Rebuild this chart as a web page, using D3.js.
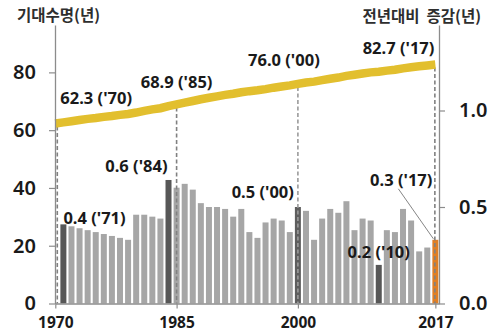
<!DOCTYPE html>
<html>
<head>
<meta charset="utf-8">
<script src="https://cdn.jsdelivr.net/npm/d3@7"></script>
<style>
  body { margin: 0; background: #fff; }
  svg { display: block; }
</style>
</head>
<body>
<svg id="chart" width="493" height="334"></svg>
<script>
// Life expectancy at birth (years), 1970–2017
const lineYears = [1970, 1971, 1972, 1973, 1974, 1975, 1976, 1977, 1978, 1979,
                   1980, 1981, 1982, 1983, 1984, 1985, 1986, 1987, 1988, 1989,
                   1990, 1991, 1992, 1993, 1994, 1995, 1996, 1997, 1998, 1999,
                   2000, 2001, 2002, 2003, 2004, 2005, 2006, 2007, 2008, 2009,
                   2010, 2011, 2012, 2013, 2014, 2015, 2016, 2017];
const lifeExpectancy = [62.3, 62.7, 63.1, 63.5, 63.9, 64.2, 64.6, 64.9, 65.3, 65.6,
                        66.1, 66.7, 67.2, 67.6, 68.3, 68.9, 69.5, 70.1, 70.7, 71.2,
                        71.7, 72.2, 72.6, 73.1, 73.5, 73.8, 74.2, 74.7, 75.1, 75.5,
                        76.0, 76.5, 76.8, 77.3, 77.8, 78.2, 78.8, 79.2, 79.6, 80.0,
                        80.2, 80.6, 80.9, 81.4, 81.8, 82.1, 82.4, 82.7];

// Year-over-year change (years), 1971–2017
const barYears = [1971, 1972, 1973, 1974, 1975, 1976, 1977, 1978, 1979,
                  1980, 1981, 1982, 1983, 1984, 1985, 1986, 1987, 1988, 1989,
                  1990, 1991, 1992, 1993, 1994, 1995, 1996, 1997, 1998, 1999,
                  2000, 2001, 2002, 2003, 2004, 2005, 2006, 2007, 2008, 2009,
                  2010, 2011, 2012, 2013, 2014, 2015, 2016, 2017];
const yearlyChange = [0.41, 0.40, 0.39, 0.38, 0.37, 0.36, 0.35, 0.34, 0.33,
                      0.46, 0.46, 0.45, 0.44, 0.64, 0.60, 0.62, 0.59, 0.52, 0.50,
                      0.50, 0.49, 0.45, 0.49, 0.37, 0.34, 0.42, 0.44, 0.43, 0.37,
                      0.50, 0.48, 0.33, 0.44, 0.49, 0.47, 0.53, 0.38, 0.44, 0.43,
                      0.20, 0.38, 0.37, 0.49, 0.43, 0.27, 0.29, 0.33];

const darkBarYears = [1971, 1984, 2010];
const dashedBarYear = 2000;
const latestYear = 2017;

const markerYears = [1970, 1985, 2000, 2017];          // dashed guides + x ticks
const leftTicks = [0, 20, 40, 60, 80];
const rightTicks = [0.0, 0.5, 1.0];

const leftTitle = "기대수명(년)";
const rightTitle = "전년대비\u00a0\u00a0증감(년)";

// ---------------------------------------------------------------
const svg = d3.select("#chart");
const plotTop = 25, plotBottom = 303.5, plotLeft = 55, plotRight = 439;

const x = d3.scaleLinear().domain([1970, 2017.45]).range([55.3, plotRight]);
const yL = d3.scaleLinear().domain([0, 96.4]).range([plotBottom, plotTop]);
const yR = d3.scaleLinear().domain([0, 1.443]).range([plotBottom, plotTop]);

const numFont = "'Noto Sans', 'DejaVu Sans', sans-serif";
const krFont = "'Noto Sans CJK KR', 'Noto Sans', sans-serif";
const axisColor = "#8c8c8c";
const textColor = "#1a1a1a";

const barData = barYears.map((yr, i) => ({ year: yr, value: yearlyChange[i] }));
const lineData = lineYears.map((yr, i) => ({ year: yr, value: lifeExpectancy[i] }));
const lifeAt = yr => lifeExpectancy[lineYears.indexOf(yr)];
const changeAt = yr => yearlyChange[barYears.indexOf(yr)];

// bars
const barW = 6;
svg.append("g").selectAll("rect")
  .data(barData)
  .join("rect")
  .attr("x", d => x(d.year) - barW / 2)
  .attr("y", d => yR(d.value))
  .attr("width", barW)
  .attr("height", d => plotBottom - yR(d.value))
  .attr("fill", d => d.year === latestYear ? "#E07F24"
                    : d.year === dashedBarYear ? "#5e5e5e"
                    : darkBarYears.includes(d.year) ? "#575757" : "#a6a6a6");

// dashed guides from the line down to the baseline
const guides = svg.append("g");
markerYears.forEach(yr => {
  const gx = yr === 1970 ? x(yr) + 2 : yr === 2017 ? x(yr) - 0.5 : x(yr);
  guides.append("line")
    .attr("x1", gx).attr("x2", gx)
    .attr("y1", yL(lifeAt(yr)) + 3).attr("y2", plotBottom)
    .attr("stroke", yr === dashedBarYear ? "#9b9b9b" : "#808080")
    .attr("stroke-width", 1.6)
    .attr("stroke-dasharray", "4,2.5");
});

// life expectancy line
svg.append("path")
  .datum(lineData)
  .attr("fill", "none")
  .attr("stroke", "#E2BF2E")
  .attr("stroke-width", 8.5)
  .attr("d", d3.line().x(d => x(d.year)).y(d => yL(d.value)));

// axes
function styleAxis(g, fs, weight) {
  g.select(".domain").attr("stroke", axisColor).attr("stroke-width", 1.3);
  g.selectAll(".tick line").attr("stroke", axisColor).attr("stroke-width", 1.2);
  g.selectAll(".tick text").attr("fill", textColor)
    .style("font-family", numFont).style("font-size", fs + "px").style("font-weight", weight);
}

svg.append("g")
  .attr("transform", `translate(${plotLeft},0)`)
  .call(d3.axisLeft(yL).tickValues(leftTicks).tickSize(6).tickSizeOuter(0).tickPadding(13))
  .call(g => styleAxis(g, 20, 600));

svg.append("g")
  .attr("transform", `translate(${plotRight},0)`)
  .call(d3.axisRight(yR).tickValues(rightTicks).tickFormat(d3.format(".1f"))
        .tickSize(6).tickSizeOuter(0).tickPadding(14))
  .call(g => styleAxis(g, 20, 600));

svg.append("g")
  .attr("transform", `translate(0,${plotBottom})`)
  .call(d3.axisBottom(x).tickValues(markerYears).tickFormat(d3.format("d"))
        .tickSize(5).tickSizeOuter(0).tickPadding(8))
  .call(g => styleAxis(g, 15.5, 700));

// axis titles
svg.append("text").attr("x", 17).attr("y", 21).text(leftTitle)
  .attr("fill", "#2e2e2e").style("font-family", krFont).style("font-size", "15.5px").style("font-weight", 700);
svg.append("text").attr("x", 481).attr("y", 22).attr("text-anchor", "end").text(rightTitle)
  .attr("fill", "#2e2e2e").style("font-family", krFont).style("font-size", "15.5px").style("font-weight", 700);

// value labels
const fmtLife = d3.format(".1f");
const fmtChange = d3.format(".1f");
const yy = yr => "'" + String(yr).slice(2);

function label(txt, lx, ly, anchor) {
  svg.append("text")
    .attr("x", lx).attr("y", ly).attr("text-anchor", anchor)
    .attr("fill", textColor)
    .style("font-family", numFont).style("font-size", "16.5px").style("font-weight", 700)
    .text(txt);
}

// line labels
label(`${fmtLife(lifeAt(1970))} (${yy(1970)})`, x(1970) + 5, yL(lifeAt(1970)) - 20, "start");
label(`${fmtLife(lifeAt(1985))} (${yy(1985)})`, x(1985), yL(lifeAt(1985)) - 16, "middle");
label(`${fmtLife(lifeAt(2000))} (${yy(2000)})`, x(2000) - 14, yL(lifeAt(2000)) - 18, "middle");
label(`${fmtLife(lifeAt(2017))} (${yy(2017)})`, x(2017) - 1, yL(lifeAt(2017)) - 11, "end");

// bar labels
label(`${fmtChange(changeAt(1971))} (${yy(1971)})`, x(1971), yR(changeAt(1971)), "start");
label(`${fmtChange(changeAt(1984))} (${yy(1984)})`, x(1984) - 1, yR(changeAt(1984)) - 8, "end");
label(`${fmtChange(changeAt(2000))} (${yy(2000)})`, x(2000) - 4, yR(changeAt(2000)) - 9, "end");
label(`${fmtChange(changeAt(2010))} (${yy(2010)})`, x(2010), yR(changeAt(2010)) - 7, "middle");
label(`${fmtChange(changeAt(2017))} (${yy(2017)})`, x(2017) - 3, yR(changeAt(2017)) - 54, "end");

// leader from the 2017 label to its bar
svg.append("line")
  .attr("x1", x(2017) - 37).attr("y1", yR(changeAt(2017)) - 51)
  .attr("x2", x(2017) - 2).attr("y2", yR(changeAt(2017)) - 1)
  .attr("stroke", "#777").attr("stroke-width", 0.9);
</script>
</body>
</html>
